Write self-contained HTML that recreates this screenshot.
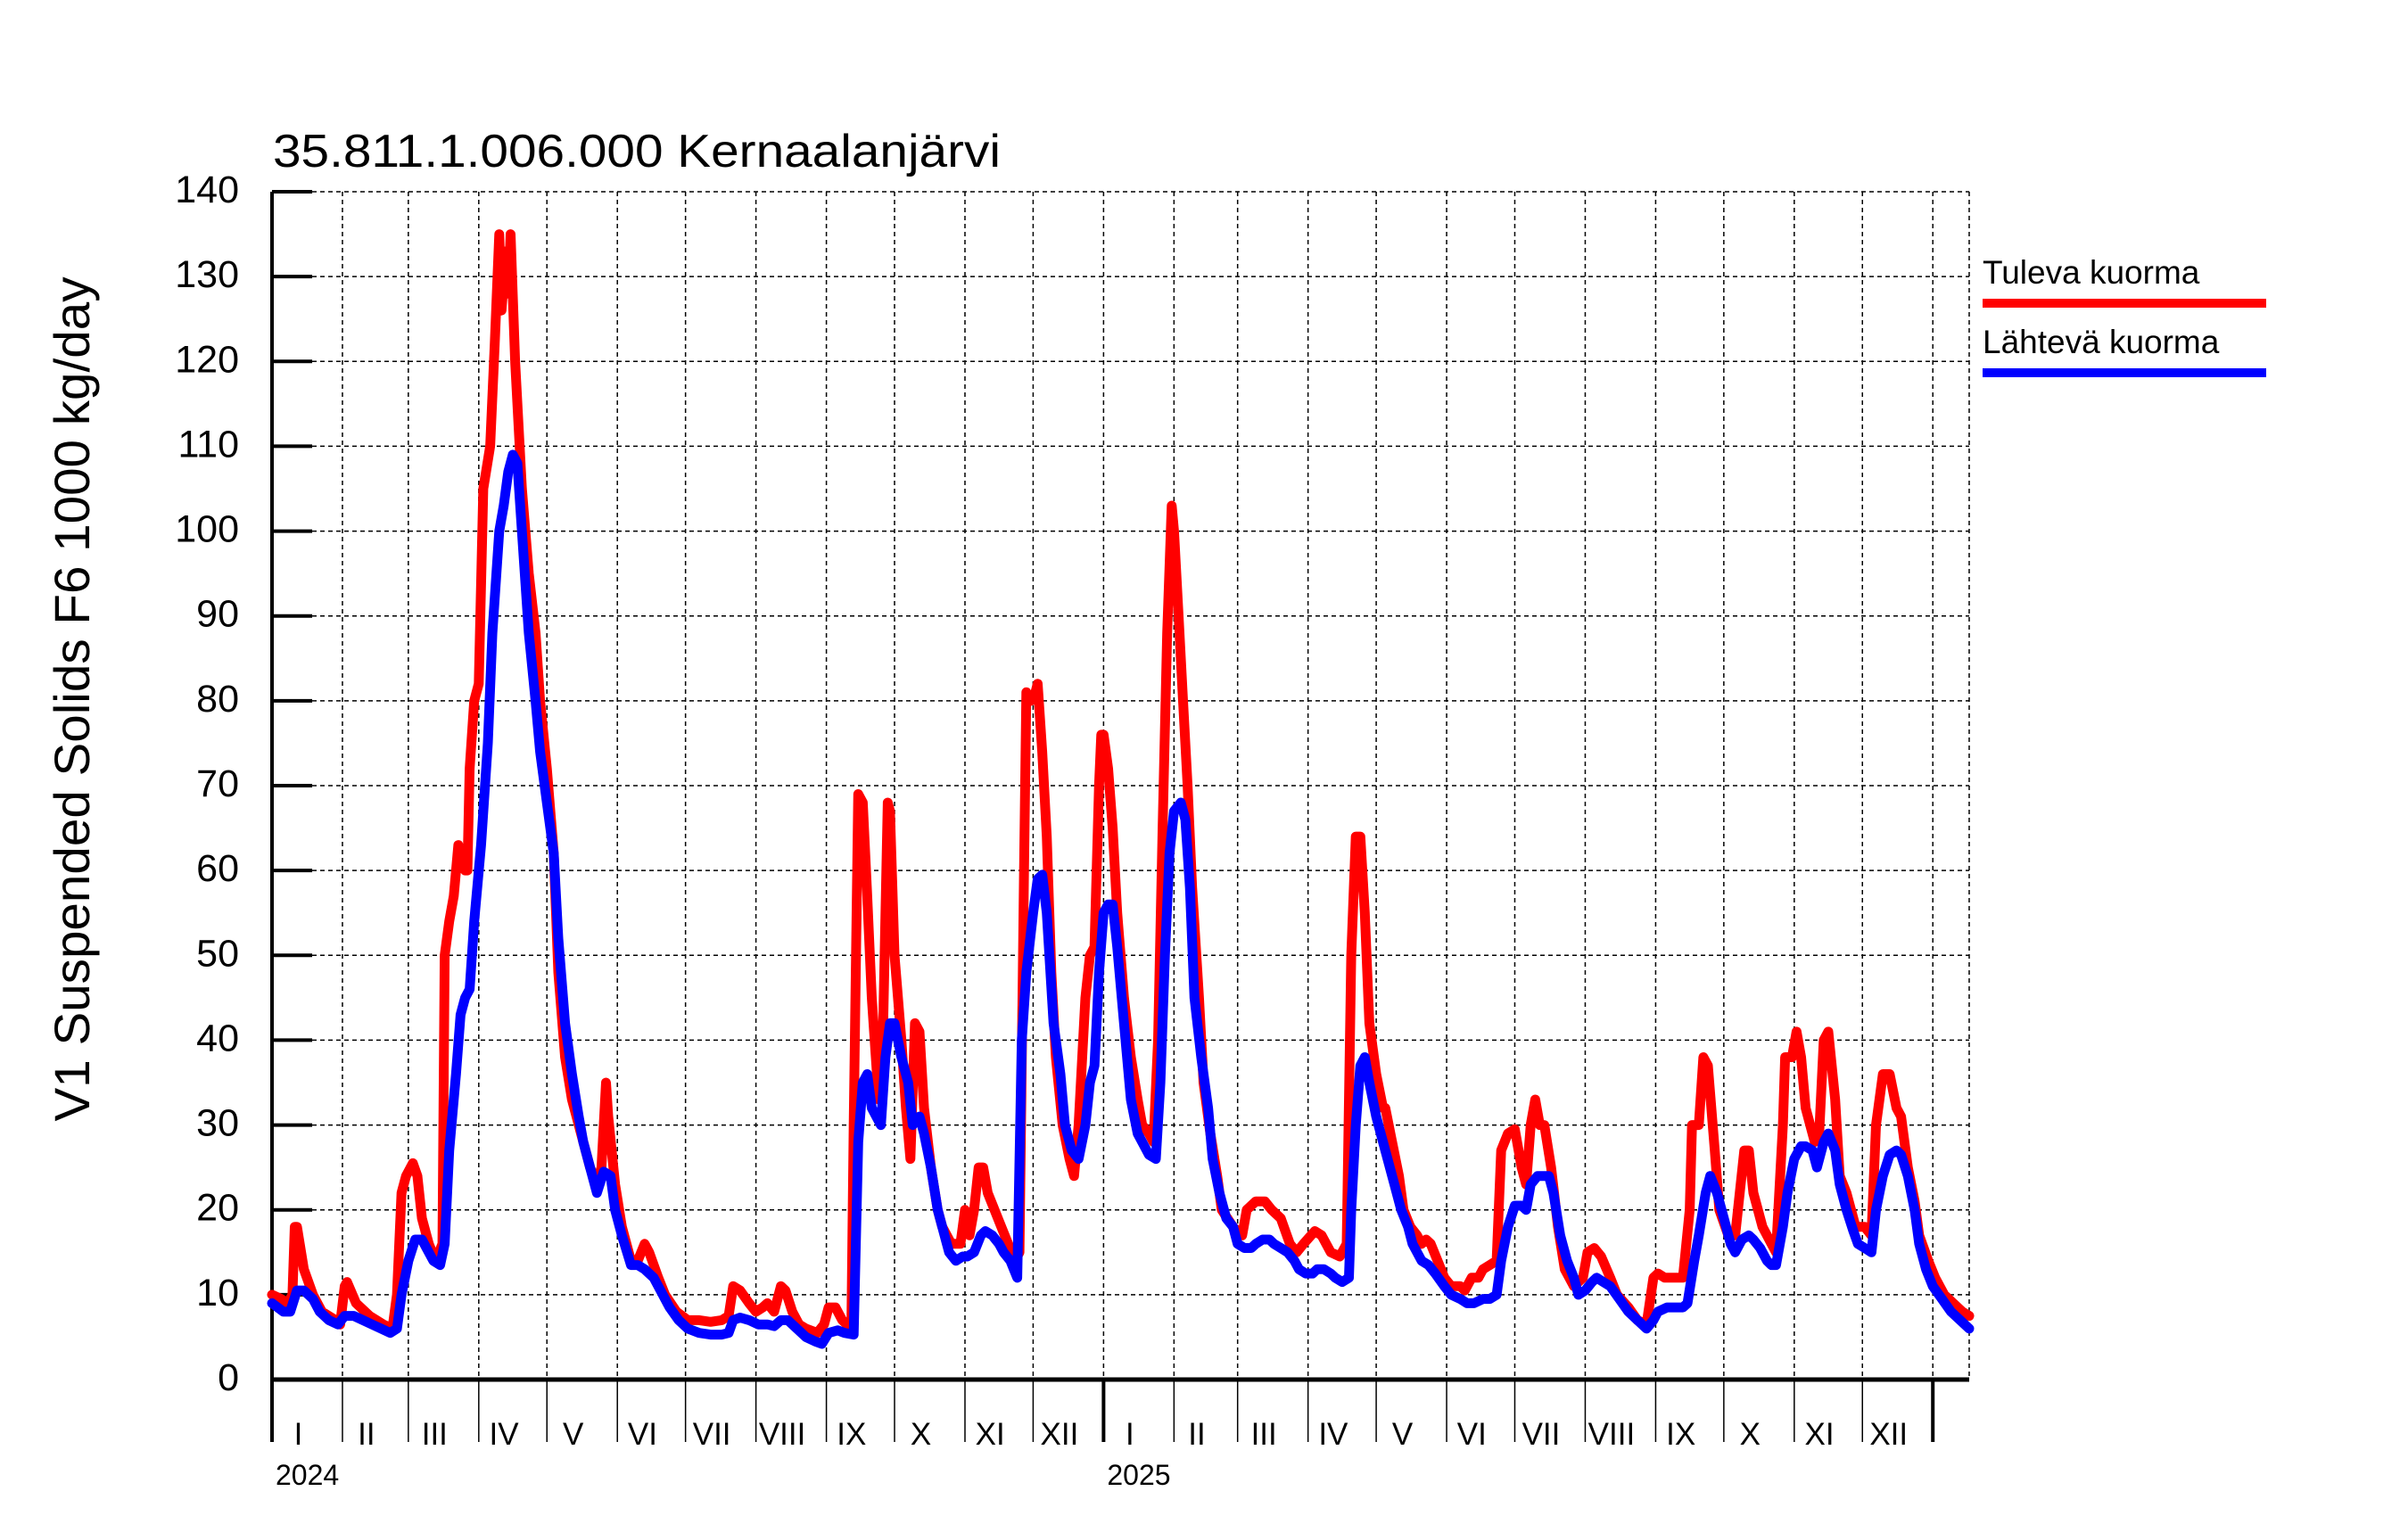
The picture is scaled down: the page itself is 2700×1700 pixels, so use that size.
<!DOCTYPE html>
<html><head><meta charset="utf-8"><style>
html,body{margin:0;padding:0;background:#fff;}
svg{display:block;font-family:"Liberation Sans",sans-serif;}
</style></head><body>
<svg id="chart" width="2700" height="1700" viewBox="0 0 2700 1700" xmlns="http://www.w3.org/2000/svg">
<rect width="2700" height="1700" fill="#fff"/>
<text x="306" y="187" font-size="52" textLength="816" lengthAdjust="spacingAndGlyphs">35.811.1.006.000 Kernaalanjärvi</text>
<text transform="translate(100,784) rotate(-90)" text-anchor="middle" font-size="56" textLength="947" lengthAdjust="spacingAndGlyphs">V1 Suspended Solids F6 1000 kg/day</text>
<g id="grid"></g>
<g id="axes"></g>
<g id="series"></g>
<g>
<text x="2223" y="318" font-size="37">Tuleva kuorma</text>
<rect x="2223" y="335" width="318" height="10" fill="#ff0000"/>
<text x="2223" y="396" font-size="37">Lähtevä kuorma</text>
<rect x="2223" y="413" width="318" height="10" fill="#0000ff"/>
</g>
</svg>
<script>
const yTicks=[0,10,20,30,40,50,60,70,80,90,100,110,120,130,140];
const monthLabels=["I","II","III","IV","V","VI","VII","VIII","IX","X","XI","XII"];
const monthDays2024=[31,29,31,30,31,30,31,31,30,31,30,31];
const monthDays2025=[31,28,31,30,31,30,31,31,30,31,30,31];
const yearLabels=["2024","2025"];
const tulevaDays=[0,4,7,9,10,11,14,18,22,28,30,32,33,37,43,49,53,55,57,59,62,64,66,69,72,75,76,78,80,82,85,86,87,89,91,93,96,98,100,101,103,104,105,107,110,113,116,118,121,124,126,129,132,136,140,143,145,147,148,151,154,158,161,164,166,170,173,178,183,188,193,198,201,203,206,210,213,216,218,221,224,226,229,232,235,240,243,245,248,251,255,256,258,260,262,264,267,269,271,272,274,277,279,281,283,285,287,290,293,295,299,303,305,307,309,311,313,315,318,321,324,327,329,331,332,334,336,337,339,341,343,345,348,351,353,355,358,360,362,364,365,366,368,370,372,375,378,381,383,386,388,390,392,394,396,397,399,401,403,405,408,410,413,416,418,423,427,429,433,437,440,444,448,451,454,459,462,466,470,473,475,477,479,481,483,486,489,490,493,496,498,501,504,506,508,510,513,516,519,523,525,528,531,533,536,539,541,544,547,550,552,554,556,558,560,563,566,569,573,577,579,582,585,589,592,597,601,605,608,610,613,617,621,624,625,628,630,632,635,637,641,644,648,650,652,656,660,662,665,666,669,671,673,675,679,681,683,685,688,690,693,697,701,704,706,709,712,715,717,720,723,725,729,732,736,740,744,747];
const tulevaValues=[10,9.5,9,10,18,18,13,10,8,7,6.5,11,11.5,9,7.5,6.5,6,10,22,24,25.5,24,19,16,14,16,50,54,57,63,60,60,72,80,82,105,110,122,135,126,133,128,135,120,105,95,88,80,72,62,48,38,33,29,25,23,25,35,31,23,18,14,14,16,15,12,10,8,7,7,6.8,7,7.5,11,10.5,9,8,8.5,9,8,11,10.5,8,6.5,6,5.5,6.5,8.5,8.5,7,6,30,69,68,57,45,33,42,68,67,50,40,32,26,42,41,32,25,20,18,16,16,20,17,20,25,25,22,20,18,16,14,15,60,81,80,81,82,74,64,48,38,30,26,24,30,45,50,51,70,76,76,72,65,55,45,38,33,30,29,28,40,65,88,103,100,90,80,70,58,45,35,29,24,20,18,17,20,21,21,20,19,16,15,16,17.5,17,15,14.5,16,50,64,64,55,42,36,32,32,28,24,20,18,17,16,16.5,16,14,12,11,11,10.5,12,12,13,13.5,14,27,29,29.5,25,23,30,33,30,30,25,18,13,11,12,15,15.5,14.5,12,10,8.5,7,6.5,12,12.5,12,12,12,20,30,30,38,37,27,20,17,17,27,27,22,18,16,15,30,38,38,41,38,32,28,29,40,41,33,24,22,18,18,17,30,36,36,32,31,25,21,17,14,12,10,9,8,7.5];
const lahtevaDays=[0,5,8,11,14,18,21,25,29,32,36,40,44,48,52,55,57,60,63,66,68,71,74,76,78,81,83,85,87,89,92,95,97,100,102,104,106,108,110,113,116,118,121,124,126,129,132,135,137,140,143,146,149,151,154,158,161,164,168,171,175,179,183,188,193,198,201,203,206,210,214,218,221,224,227,231,235,239,242,245,249,252,256,258,260,262,264,268,270,272,274,277,280,282,285,287,290,293,295,298,301,304,306,309,312,314,317,320,322,325,328,330,332,335,337,339,341,344,347,349,352,355,358,360,362,364,366,368,370,372,375,378,381,383,386,389,391,393,395,397,400,402,404,406,409,412,414,417,420,423,425,428,431,433,436,439,441,444,447,450,452,455,458,460,463,466,468,471,474,475,477,479,481,483,486,489,491,494,497,500,502,506,509,512,516,519,523,526,529,533,536,539,541,544,547,550,552,554,557,560,562,564,567,570,573,575,578,581,583,586,589,593,597,601,605,608,610,614,617,621,623,626,628,631,633,636,639,642,644,647,650,652,655,658,660,662,665,667,670,673,675,678,680,683,685,688,690,693,696,698,701,704,706,709,712,715,717,720,723,725,728,731,735,739,743,747];
const lahtevaValues=[9,8,8,10.5,10.5,9.5,8,7,6.5,7.5,7.5,7,6.5,6,5.5,6,10,14,16.5,16.5,15.5,14,13.5,16,27,36,43,45,46,54,63,75,88,100,103,107,109,108,100,88,80,74,68,62,52,42,36,31,28,25,22,24.5,24,20,17,13.5,13.5,13,12,10.5,8.5,7,6,5.5,5.3,5.3,5.5,7,7.3,7,6.5,6.5,6.3,7,7,6,5,4.5,4.2,5.5,5.8,5.5,5.3,28,35,36,32,30,38,42,42,38,35,30,31,29,25,20,18,15,14,14.5,14.5,15,17,17.5,17,16,15,14,12,40,48,55,59,59.5,55,42,36,30,27,26,30,35,37,48,55,56,56,51,42,33,29,28,26.5,26,35,50,62,67,68,66,58,45,38,32,26,22,19,18,16,15.5,15.5,16,16.5,16.5,16,15.5,15,14,13,12.5,12.5,13,13,12.5,12,11.5,12,20,30,37,38,35,31,28,26,23,20,18,16,14,13.5,12.5,11,10,9.5,9,9,9.5,9.5,10,14,18,20.5,20.5,20,23,24,24,24,22,17,14,12,10,10.5,11.5,12,11.5,11,9.5,8,7,6,7,8,8.5,8.5,8.5,9,14,17,22,24,22,19,16,15,16.5,17,16.5,15.5,14,13.5,13.5,18,22,26,27.5,27.5,27,25,28,29,27,23,20,17.5,16,15.5,15,20,24,26.5,27,26.5,24,20,16,13,11,9.5,8,7,6];

const NS="http://www.w3.org/2000/svg";
const X0=305,Y0=1547,YTOP=215,PXDAY=2.5475,XMAXDAY=747,YMAX=140;
const xS=d=>X0+d*PXDAY;
const yS=v=>Y0-(v/YMAX)*(Y0-YTOP);
const XR=xS(XMAXDAY);
function mk(tag,attrs,parent){const e=document.createElementNS(NS,tag);for(const k in attrs)e.setAttribute(k,attrs[k]);parent.appendChild(e);return e;}
const grid=document.getElementById('grid'),axes=document.getElementById('axes'),series=document.getElementById('series');

yTicks.forEach(v=>{
  const y=yS(v);
  if(v>0){const g=mk('line',{x1:X0,x2:XR,y1:y,y2:y,stroke:'#000','stroke-width':1.5,'stroke-dasharray':'5,4'},grid);
  
  }
  const t=mk('line',{x1:X0,x2:X0+45,y1:y,y2:y,stroke:'#000','stroke-width':4},axes);
  
  
  const l=mk('text',{x:268,y:y+12,'text-anchor':'end','font-size':43},axes);
  l.textContent=v;
  
  
});

const months=monthDays2024.concat(monthDays2025);
let day=0;
months.forEach((n,i)=>{
  const xs=xS(day),xe=xS(day+n);
  const isYear=(i%12===0);
  if(day>0){const g=mk('line',{x1:xs,x2:xs,y1:YTOP,y2:Y0,stroke:'#000','stroke-width':1.5,'stroke-dasharray':'5,4'},grid);
  
  }
  const t=mk('line',{x1:xs,x2:xs,y1:Y0,y2:1617,stroke:'#000','stroke-width':isYear?4:1.5},axes);
  
  
  const l=mk('text',{x:(xs+xe)/2-10,y:1620,'text-anchor':'middle','font-size':35},axes);
  l.textContent=monthLabels[i%12];
  
  
  if(isYear){const yl=mk('text',{x:xs+4,y:1665,'font-size':32},axes);
  yl.textContent=yearLabels[i/12];
  
  }
  day+=n;
});
{const xe=xS(day);
const t=mk('line',{x1:xe,x2:xe,y1:YTOP,y2:Y0,stroke:'#000','stroke-width':1.5,'stroke-dasharray':'5,4'},grid);


const t2=mk('line',{x1:xe,x2:xe,y1:Y0,y2:1617,stroke:'#000','stroke-width':4},axes);


const r=mk('line',{x1:XR,x2:XR,y1:YTOP,y2:Y0,stroke:'#000','stroke-width':1.5,'stroke-dasharray':'5,4'},grid);

}

const xa=mk('line',{x1:X0,x2:XR,y1:Y0,y2:Y0,stroke:'#000','stroke-width':5},axes);


const ya=mk('line',{x1:X0,x2:X0,y1:YTOP,y2:1617,stroke:'#000','stroke-width':4},axes);



function line(days,vals,color,name){
  const pts=days.map((d,i)=>xS(d).toFixed(1)+','+yS(vals[i]).toFixed(1)).join(' ');
  const p=mk('polyline',{points:pts,fill:'none',stroke:color,'stroke-width':11,'stroke-linejoin':'round','stroke-linecap':'round'},series);
  
  
}
line(tulevaDays,tulevaValues,'#ff0000','tuleva-kuorma-line');
line(lahtevaDays,lahtevaValues,'#0000ff','lahteva-kuorma-line');
</script>
</body></html>
